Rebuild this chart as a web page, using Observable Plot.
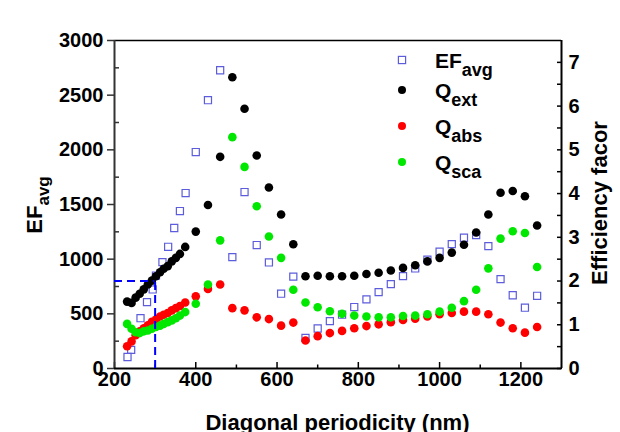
<!DOCTYPE html>
<html><head><meta charset="utf-8">
<script src="https://cdn.jsdelivr.net/npm/d3@7"></script>
<script src="https://cdn.jsdelivr.net/npm/@observablehq/plot@0.6"></script>
<style>body{margin:0;background:#fff;}#chart svg{display:block;}</style>
</head><body><div id="chart"></div>
<script>
// ---- data ----
const qX = [231, 242, 252, 262, 272, 282, 292, 302, 312, 321, 331, 341, 351, 361, 374,
  400, 430, 460, 490, 520, 550, 580, 610, 640, 670, 700, 730, 760, 790, 820, 850, 880,
  910, 940, 970, 1000, 1030, 1060, 1090, 1120, 1150, 1180, 1210, 1240];
const qExt = [1.53, 1.50, 1.62, 1.71, 1.81, 1.92, 2.01, 2.11, 2.20, 2.28, 2.34, 2.45, 2.53, 2.62, 2.78,
  3.13, 3.74, 4.84, 6.66, 5.94, 4.87, 4.14, 3.52, 2.84, 2.11, 2.12, 2.11, 2.11, 2.12, 2.16, 2.19, 2.24,
  2.30, 2.36, 2.45, 2.53, 2.65, 2.83, 3.11, 3.52, 4.02, 4.06, 3.94, 3.27];
const qAbs = [0.51, 0.62, 0.76, 0.85, 0.92, 0.99, 1.07, 1.12, 1.19, 1.23, 1.27, 1.33, 1.38, 1.43, 1.51,
  1.65, 1.82, 1.92, 1.38, 1.33, 1.17, 1.13, 0.98, 1.05, 0.64, 0.74, 0.81, 0.86, 0.92, 0.97, 1.01, 1.06,
  1.11, 1.14, 1.19, 1.24, 1.27, 1.30, 1.30, 1.24, 1.05, 0.92, 0.82, 0.95];
const qSca = [1.02, 0.91, 0.83, 0.81, 0.85, 0.87, 0.91, 0.95, 0.98, 1.02, 1.06, 1.10, 1.15, 1.21, 1.29,
  1.48, 1.92, 2.93, 5.29, 4.61, 3.71, 3.02, 2.53, 1.80, 1.51, 1.40, 1.31, 1.25, 1.21, 1.19, 1.17, 1.17,
  1.20, 1.21, 1.24, 1.30, 1.39, 1.54, 1.80, 2.29, 2.97, 3.14, 3.10, 2.32];
const efX = [232, 241, 264, 280, 294, 302, 318, 332, 347, 361, 375,
  400, 430, 460, 490, 520, 550, 580, 610, 640, 670, 700, 730, 760, 790, 820, 850, 880,
  910, 940, 970, 1000, 1030, 1060, 1090, 1120, 1150, 1180, 1210, 1240];
const efAvg = [105, 170, 460, 607, 723, 850, 973, 1113, 1285, 1440, 1605,
  1980, 2454, 2728, 1019, 1614, 1129, 970, 684, 840, 280, 366, 433, 492, 562, 632, 699, 772,
  845, 915, 995, 1068, 1138, 1196, 1220, 1119, 817, 670, 556, 665];
const guideX = 300, guideEF = 800;
const xMajor = [200, 400, 600, 800, 1000, 1200];
const xMinor = [300, 500, 700, 900, 1100];
const efMajor = [0, 500, 1000, 1500, 2000, 2500, 3000];
const efMinor = [250, 750, 1250, 1750, 2250, 2750];
const qMajor = [0, 1, 2, 3, 4, 5, 6, 7];
const qMinor = [0.5, 1.5, 2.5, 3.5, 4.5, 5.5, 6.5];
const EF_PER_Q = 400; // right axis 0–7.5 maps onto left 0–3000

const qData = qX.map((x, i) => ({x, ext: qExt[i], abs: qAbs[i], sca: qSca[i]}));
const efData = efX.map((x, i) => ({x, ef: efAvg[i]}));

const C = {ef: "#5c5cdc", ext: "#000000", abs: "#ff0000", sca: "#00e800", guide: "#0000ff"};
const fmt = d3.format("d");

const chart = Plot.plot({
  width: 620, height: 432,
  marginLeft: 114, marginRight: 59, marginTop: 40, marginBottom: 64,
  style: {fontFamily: "'Liberation Sans', Arial, sans-serif", fontWeight: "bold", fontSize: "20px", background: "white", color: "black"},
  x: {domain: [200, 1300]},
  y: {domain: [0, 3000]},
  marks: [
    // axes: labels
    Plot.axisX({ticks: xMajor, tickSize: 0, tickPadding: 3, tickFormat: fmt, label: null, fontSize: 20}),
    Plot.axisX({ticks: xMajor, tickSize: -6, fill: "none", strokeWidth: 1.5, label: null}),
    Plot.axisX({ticks: xMinor, tickSize: -3.5, fill: "none", strokeWidth: 1.5, label: null}),
    Plot.axisY({anchor: "left", ticks: efMajor, tickSize: 7, tickPadding: 4, tickFormat: fmt, label: null, fontSize: 20, stroke: "#333", strokeWidth: 1.5}),
    Plot.axisY({anchor: "left", ticks: efMinor, tickSize: -5, fill: "none", stroke: "#333", strokeWidth: 1.5, label: null}),
    Plot.axisY({anchor: "right", ticks: qMajor.map(q => q * EF_PER_Q), tickFormat: d => fmt(d / EF_PER_Q), tickSize: 0, tickPadding: 7, label: null, fontSize: 20}),
    Plot.axisY({anchor: "right", ticks: qMajor.map(q => q * EF_PER_Q), tickSize: -5, fill: "none", strokeWidth: 1.5, label: null}),
    Plot.axisY({anchor: "right", ticks: qMinor.map(q => q * EF_PER_Q), tickSize: -5, fill: "none", strokeWidth: 1.5, label: null}),
    // frame lines
    Plot.ruleY([3000], {stroke: "black", strokeWidth: 1.5}),
    Plot.ruleX([1300], {stroke: "black", strokeWidth: 2}),
    Plot.ruleX([200], {stroke: "#333", strokeWidth: 2}),
    Plot.ruleY([0], {stroke: "black", strokeWidth: 2}),
    // data
    Plot.dot(efData, {x: "x", y: "ef", symbol: "square", r: 4, stroke: C.ef, strokeWidth: 1.2, fill: "none"}),
    Plot.dot(qData, {x: "x", y: d => d.ext * EF_PER_Q, r: 4.3, fill: C.ext, stroke: "none"}),
    Plot.dot(qData, {x: "x", y: d => d.abs * EF_PER_Q, r: 4.3, fill: C.abs, stroke: "none"}),
    Plot.dot(qData, {x: "x", y: d => d.sca * EF_PER_Q, r: 4.3, fill: C.sca, stroke: "none"}),
    // dashed guide
    Plot.ruleY([guideEF], {x1: 200, x2: guideX, stroke: C.guide, strokeWidth: 2, strokeDasharray: "8,5"}),
    Plot.ruleX([guideX], {y1: 0, y2: guideEF, stroke: C.guide, strokeWidth: 2, strokeDasharray: "8,5"})
  ]
});
document.getElementById("chart").appendChild(chart);

// ---- titles and legend (with subscripts) ----
const svg = d3.select(chart);
const font = "'Liberation Sans', Arial, sans-serif";
function sub(sel, main, subTxt, mainSize, subSize, shift) {
  sel.append("tspan").attr("font-size", mainSize).text(main);
  sel.append("tspan").attr("font-size", subSize).attr("dy", shift).text(subTxt);
}
const lt = svg.append("text").attr("transform", "translate(42,205) rotate(-90)")
  .attr("text-anchor", "middle").attr("font-family", font).attr("font-weight", "bold").attr("fill", "black");
sub(lt, "EF", "avg", 22, 17, 7);
svg.append("text").attr("transform", "translate(607,203) rotate(-90)")
  .attr("text-anchor", "middle").attr("font-family", font).attr("font-weight", "bold")
  .attr("font-size", 22).attr("fill", "black").text("Efficiency facor");
svg.append("text").attr("x", 337.5).attr("y", 430)
  .attr("text-anchor", "middle").attr("font-family", font).attr("font-weight", "bold")
  .attr("font-size", 22).attr("fill", "black").text("Diagonal periodicity (nm)");

const legendItems = [
  {main: "EF", sub: "avg", color: C.ef, square: true, y: 60},
  {main: "Q", sub: "ext", color: C.ext, y: 90},
  {main: "Q", sub: "abs", color: C.abs, y: 126},
  {main: "Q", sub: "sca", color: C.sca, y: 162}
];
const lg = svg.append("g");
legendItems.forEach(it => {
  if (it.square) {
    lg.append("rect").attr("x", 402 - 3.6).attr("y", it.y - 3.6).attr("width", 7.2).attr("height", 7.2)
      .attr("fill", "none").attr("stroke", it.color).attr("stroke-width", 1.2);
  } else {
    lg.append("circle").attr("cx", 402).attr("cy", it.y).attr("r", 4).attr("fill", it.color);
  }
  const t = lg.append("text").attr("x", 435).attr("y", it.y + 7.5).attr("font-family", font)
    .attr("font-weight", "bold").attr("fill", "black").attr("text-anchor", "start");
  sub(t, it.main, it.sub, 21, 18, 8);
});
</script></body></html>
